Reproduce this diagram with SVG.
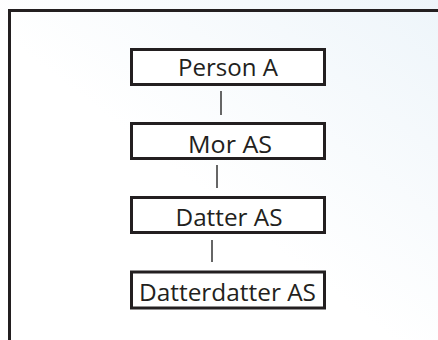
<svg xmlns="http://www.w3.org/2000/svg" width="438" height="340" viewBox="0 0 438 340">
  <defs>
    <linearGradient id="bg" x1="0" y1="1" x2="1" y2="0">
      <stop offset="0.45" stop-color="#ffffff"/>
      <stop offset="1" stop-color="#eef5fa"/>
    </linearGradient>
    <style>
      .box { fill: #ffffff; stroke: #231f20; stroke-width: 3; }
      .lbl { font-family: "Open Sans", "Noto Sans", sans-serif; font-size: 24px; fill: #231f20; text-anchor: middle; }
      .conn { stroke: #666666; stroke-width: 2; fill: none; }
      .frame { stroke: #231f20; stroke-width: 3; fill: none; }
    </style>
  </defs>
  <rect x="0" y="0" width="438" height="340" fill="url(#bg)"/>
  <path class="frame" d="M9.5,340 V10.5 H438"/>
  <g id="connectors">
    <line class="conn" x1="221" y1="91" x2="221" y2="115"/>
    <line class="conn" x1="217" y1="165" x2="217" y2="188"/>
    <line class="conn" x1="212" y1="240" x2="212" y2="262"/>
  </g>
  <g id="node-person-a">
    <rect class="box" x="131.5" y="49.5" width="193" height="35"/>
    <text class="lbl" x="228" y="76" textLength="100" lengthAdjust="spacingAndGlyphs">Person A</text>
  </g>
  <g id="node-mor-as">
    <rect class="box" x="131.5" y="123.5" width="193" height="35"/>
    <text class="lbl" x="230" y="152.5" textLength="84" lengthAdjust="spacingAndGlyphs">Mor AS</text>
  </g>
  <g id="node-datter-as">
    <rect class="box" x="131.5" y="197.5" width="193" height="35"/>
    <text class="lbl" x="229" y="226" textLength="107" lengthAdjust="spacingAndGlyphs">Datter AS</text>
  </g>
  <g id="node-datterdatter-as">
    <rect class="box" x="131.5" y="272" width="193" height="36"/>
    <text class="lbl" x="227.5" y="300.5" textLength="177" lengthAdjust="spacingAndGlyphs">Datterdatter AS</text>
  </g>
</svg>
